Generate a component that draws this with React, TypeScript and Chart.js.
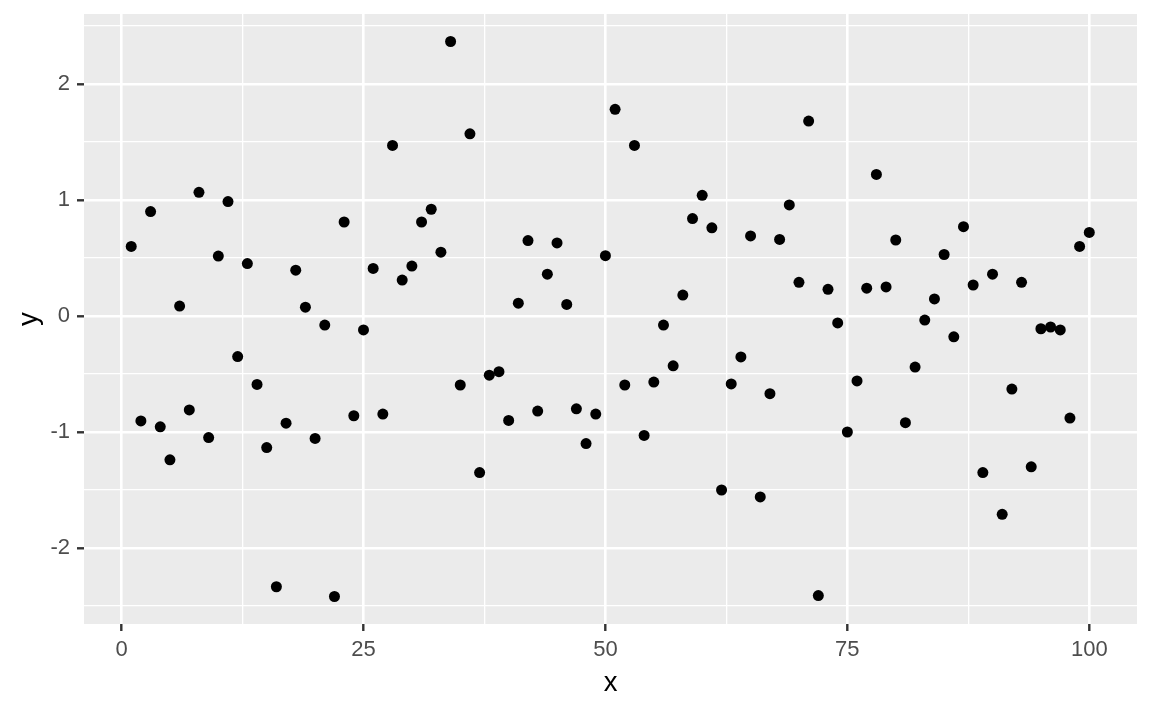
import React, { useEffect, useRef } from "react";
import { Chart, registerables } from "chart.js";

Chart.register(...registerables);

const X_VALUES: number[] = [
  1, 2, 3, 4, 5, 6, 7, 8, 9, 10,
  11, 12, 13, 14, 15, 16, 17, 18, 19, 20,
  21, 22, 23, 24, 25, 26, 27, 28, 29, 30,
  31, 32, 33, 34, 35, 36, 37, 38, 39, 40,
  41, 42, 43, 44, 45, 46, 47, 48, 49, 50,
  51, 52, 53, 54, 55, 56, 57, 58, 59, 60,
  61, 62, 63, 64, 65, 66, 67, 68, 69, 70,
  71, 72, 73, 74, 75, 76, 77, 78, 79, 80,
  81, 82, 83, 84, 85, 86, 87, 88, 89, 90,
  91, 92, 93, 94, 95, 96, 97, 98, 99, 100,
];

const Y_VALUES: number[] = [
  0.60, -0.905, 0.90, -0.955, -1.24, 0.085, -0.81, 1.066, -1.048, 0.516,
  0.986, -0.35, 0.452, -0.59, -1.134, -2.334, -0.924, 0.395, 0.076, -1.055,
  -0.078, -2.418, 0.81, -0.86, -0.12, 0.41, -0.845, 1.47, 0.31, 0.43,
  0.81, 0.92, 0.55, 2.366, -0.595, 1.57, -1.35, -0.51, -0.48, -0.90,
  0.11, 0.65, -0.82, 0.36, 0.63, 0.10, -0.80, -1.10, -0.845, 0.52,
  1.781, -0.595, 1.47, -1.03, -0.57, -0.078, -0.43, 0.18, 0.84, 1.04,
  0.76, -1.50, -0.586, -0.353, 0.69, -1.56, -0.67, 0.66, 0.957, 0.29,
  1.68, -2.41, 0.23, -0.06, -1.0, -0.56, 0.24, 1.22, 0.25, 0.655,
  -0.92, -0.44, -0.035, 0.147, 0.53, -0.18, 0.77, 0.267, -1.35, 0.36,
  -1.71, -0.63, 0.29, -1.30, -0.11, -0.095, -0.12, -0.88, 0.60, 0.72,
];

const X_MAJOR: number[] = [0, 25, 50, 75, 100];
const X_MINOR: number[] = [12.5, 37.5, 62.5, 87.5];
const Y_MAJOR: number[] = [-2, -1, 0, 1, 2];
const Y_MINOR: number[] = [-2.5, -1.5, -0.5, 0.5, 1.5, 2.5];

const X_LIMITS: number[] = [-3.88, 104.93];
const Y_LIMITS: number[] = [-2.655, 2.603];

const FONT = "'Liberation Sans', Arial, Helvetica, sans-serif";

const panelBackground = {
  id: "panelBackground",
  beforeDraw(chart: any) {
    const { ctx, chartArea } = chart;
    ctx.save();
    ctx.fillStyle = "#EBEBEB";
    ctx.fillRect(chartArea.left, chartArea.top, chartArea.right - chartArea.left, chartArea.bottom - chartArea.top);
    ctx.restore();
  },
};

export default function App() {
  const canvasRef = useRef<HTMLCanvasElement | null>(null);

  useEffect(() => {
    if (!canvasRef.current) return;
    const isMajor = (list: number[], v: number) => list.some((m) => Math.abs(m - v) < 1e-9);

    const chart = new Chart(canvasRef.current, {
      type: "scatter",
      data: {
        datasets: [
          {
            data: X_VALUES.map((x, i) => ({ x, y: Y_VALUES[i] })),
            backgroundColor: "#000000",
            borderWidth: 0,
            pointRadius: 5.5,
            pointHoverRadius: 5.5,
          },
        ],
      },
      plugins: [panelBackground],
      options: {
        animation: false,
        responsive: false,
        maintainAspectRatio: false,
        layout: { padding: { top: 14, right: 15, left: 0, bottom: 0 } },
        plugins: { legend: { display: false }, tooltip: { enabled: false } },
        scales: {
          x: {
            type: "linear",
            min: X_LIMITS[0],
            max: X_LIMITS[1],
            afterBuildTicks: (scale: any) => {
              scale.ticks = [...X_MAJOR, ...X_MINOR].sort((a, b) => a - b).map((v) => ({ value: v }));
            },
            afterFit: (scale: any) => {
              scale.height = 87;
              scale.paddingLeft = 0;
              scale.paddingRight = 0;
            },
            ticks: {
              autoSkip: false,
              maxRotation: 0,
              padding: 6,
              color: "#4D4D4D",
              font: { family: FONT, size: 22 },
              callback: (v: any) => (isMajor(X_MAJOR, Number(v)) ? String(v) : ""),
            },
            grid: {
              color: "#FFFFFF",
              lineWidth: (ctx: any) => (ctx.tick && isMajor(X_MAJOR, ctx.tick.value) ? 2.6 : 1.3),
              tickColor: (ctx: any) => (ctx.tick && isMajor(X_MAJOR, ctx.tick.value) ? "#333333" : "rgba(0,0,0,0)"),
              tickLength: 7,
              tickWidth: 2.4,
            },
            border: { display: false },
            title: {
              display: true,
              text: "x",
              color: "#000000",
              font: { family: FONT, size: 27.5 },
              padding: { top: 0, bottom: 11.5 },
            },
          },
          y: {
            type: "linear",
            min: Y_LIMITS[0],
            max: Y_LIMITS[1],
            afterBuildTicks: (scale: any) => {
              scale.ticks = [...Y_MAJOR, ...Y_MINOR].sort((a, b) => a - b).map((v) => ({ value: v }));
            },
            afterFit: (scale: any) => {
              scale.width = 84;
              scale.paddingTop = 0;
              scale.paddingBottom = 0;
            },
            ticks: {
              autoSkip: false,
              padding: 7,
              color: "#4D4D4D",
              font: { family: FONT, size: 22 },
              callback: (v: any) => (isMajor(Y_MAJOR, Number(v)) ? String(v) : ""),
            },
            grid: {
              color: "#FFFFFF",
              lineWidth: (ctx: any) => (ctx.tick && isMajor(Y_MAJOR, ctx.tick.value) ? 2.6 : 1.3),
              tickColor: (ctx: any) => (ctx.tick && isMajor(Y_MAJOR, ctx.tick.value) ? "#333333" : "rgba(0,0,0,0)"),
              tickLength: 7,
              tickWidth: 2.4,
            },
            border: { display: false },
            title: {
              display: true,
              text: "y",
              color: "#000000",
              font: { family: FONT, size: 27.5 },
              padding: { top: 13, bottom: 0 },
            },
          },
        },
      },
    });
    return () => chart.destroy();
  }, []);

  return (
    <div style={{ position: "fixed", left: 0, top: 0, width: 1152, height: 711, background: "#FFFFFF" }}>
      <canvas ref={canvasRef} width={1152} height={711} style={{ display: "block", width: 1152, height: 711 }} />
    </div>
  );
}
